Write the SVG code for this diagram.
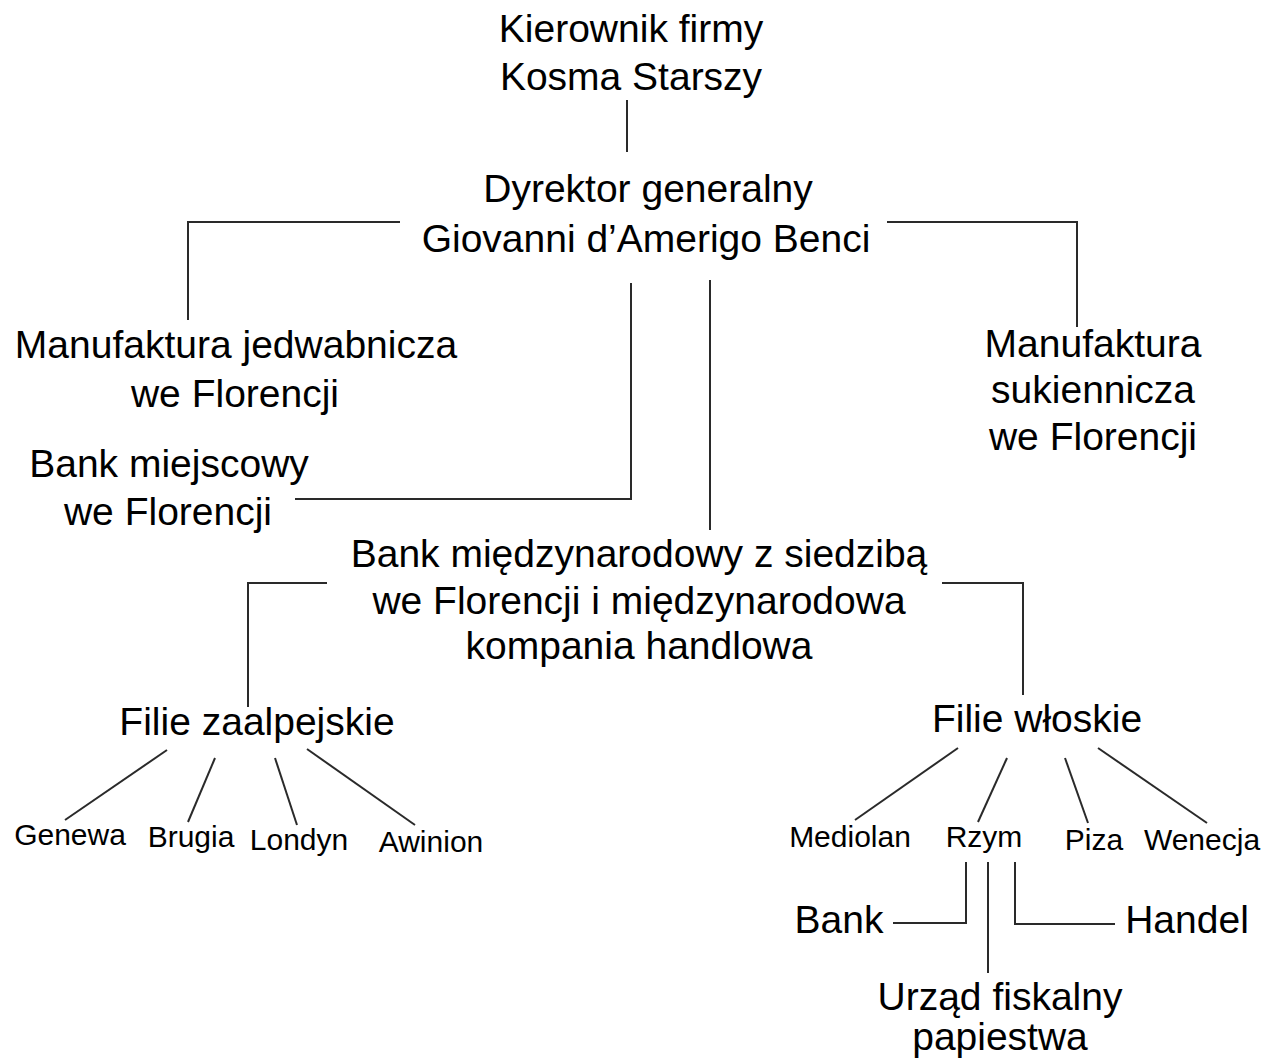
<svg xmlns="http://www.w3.org/2000/svg" width="1271" height="1061" viewBox="0 0 1271 1061">
<style>
text{font-family:"Liberation Sans",Arial,sans-serif;fill:#000;text-anchor:middle}
.l{font-size:39px}
.s{font-size:30px}
.c{fill:none;stroke:#2a2a2a;stroke-width:2}
</style>
<rect width="1271" height="1061" fill="#fff"/>
<g id="connectors" class="c">
<path d="M627 100V152"/>
<path d="M400 222H188V320"/>
<path d="M887 222H1077V327"/>
<path d="M631 283V499H295"/>
<path d="M710 280V530"/>
<path d="M327 583H248V707"/>
<path d="M942 583H1023V695"/>
<path d="M167 750L65 820"/>
<path d="M215 758L188 822"/>
<path d="M275 758L297 825"/>
<path d="M307 749L415 825"/>
<path d="M958 748L855 820"/>
<path d="M1007 758L978 822"/>
<path d="M1065 758L1088 823"/>
<path d="M1098 748L1207 823"/>
<path d="M966 862V923H893"/>
<path d="M988 862V973"/>
<path d="M1015 862V924H1115"/>
</g>
<g id="kierownik"><text class="l" x="631" y="42">Kierownik firmy</text><text class="l" x="631" y="90">Kosma Starszy</text></g>
<g id="dyrektor"><text class="l" x="648" y="202">Dyrektor generalny</text><text class="l" x="646" y="252">Giovanni d’Amerigo Benci</text></g>
<g id="jedwab"><text class="l" x="236" y="358">Manufaktura jedwabnicza</text><text class="l" x="235" y="407">we Florencji</text></g>
<g id="sukno"><text class="l" x="1093" y="357">Manufaktura</text><text class="l" x="1093" y="403">sukiennicza</text><text class="l" x="1093" y="450">we Florencji</text></g>
<g id="bank-miejscowy"><text class="l" x="169" y="477">Bank miejscowy</text><text class="l" x="168" y="525">we Florencji</text></g>
<g id="bank-miedzy"><text class="l" x="639" y="567">Bank międzynarodowy z siedzibą</text><text class="l" x="639" y="614">we Florencji i międzynarodowa</text><text class="l" x="639" y="659">kompania handlowa</text></g>
<g id="filie-zaalpejskie"><text class="l" x="257" y="735">Filie zaalpejskie</text></g>
<g id="filie-wloskie"><text class="l" x="1037" y="732">Filie włoskie</text></g>
<g id="genewa"><text class="s" x="70" y="845">Genewa</text></g>
<g id="brugia"><text class="s" x="191" y="847">Brugia</text></g>
<g id="londyn"><text class="s" x="299" y="850">Londyn</text></g>
<g id="awinion"><text class="s" x="431" y="852">Awinion</text></g>
<g id="mediolan"><text class="s" x="850" y="847">Mediolan</text></g>
<g id="rzym"><text class="s" x="984" y="847">Rzym</text></g>
<g id="piza"><text class="s" x="1094" y="850">Piza</text></g>
<g id="wenecja"><text class="s" x="1202" y="850">Wenecja</text></g>
<g id="bank"><text class="l" x="839" y="933">Bank</text></g>
<g id="handel"><text class="l" x="1187" y="933">Handel</text></g>
<g id="urzad"><text class="l" x="1000" y="1010">Urząd fiskalny</text><text class="l" x="1000" y="1050">papiestwa</text></g>
</svg>
